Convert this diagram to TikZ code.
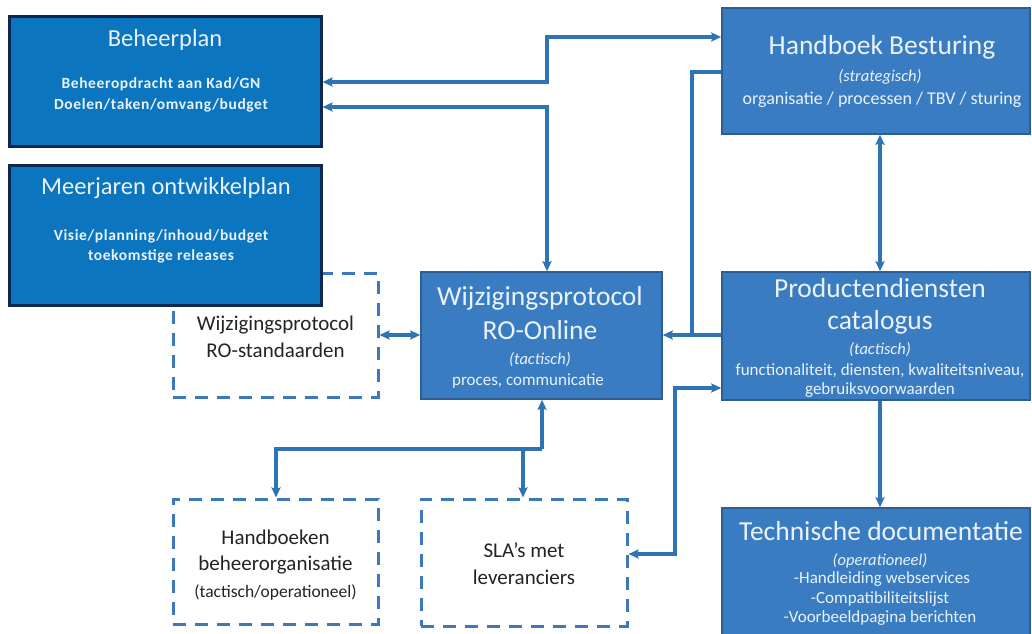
\documentclass[tikz,border=0pt]{standalone}
\usepackage{fontspec}
\setmainfont{Carlito}
\newfontfamily\spacedbold[LetterSpace=4]{Carlito}
\usetikzlibrary{arrows.meta}
\definecolor{leftfill}{RGB}{12,117,191}
\definecolor{leftborder}{RGB}{13,40,80}
\definecolor{rightfill}{RGB}{58,124,194}
\definecolor{rightborder}{RGB}{45,95,150}
\definecolor{conncol}{RGB}{46,116,181}
\definecolor{dashcol}{RGB}{62,120,188}
\definecolor{lighttext}{RGB}{234,242,250}
\definecolor{darktext}{RGB}{35,35,35}
\begin{document}
\begin{tikzpicture}[x=1pt,y=-1pt,
  lbox/.style={draw=leftborder, fill=leftfill, line width=3pt, inner sep=0pt},
  rbox/.style={draw=rightborder, fill=rightfill, line width=1.5pt, inner sep=0pt},
  dbox/.style={draw=dashcol, line width=3pt, dash pattern=on 13pt off 9pt, inner sep=0pt},
  ltitle/.style={text=lighttext, font=\fontsize{24.5}{28}\selectfont, inner sep=0pt},
  lsmall/.style={text=lighttext, font=\spacedbold\bfseries\fontsize{15.5}{18}\selectfont, inner sep=0pt},
  rtitle/.style={text=lighttext, font=\fontsize{27.5}{32}\selectfont, inner sep=0pt},
  rsmall/.style={text=lighttext, font=\fontsize{17}{20}\selectfont, inner sep=0pt},
  ritalic/.style={text=lighttext, font=\itshape\fontsize{16.5}{19}\selectfont, inner sep=0pt},
  dtitle/.style={text=darktext, font=\fontsize{21}{25}\selectfont, inner sep=0pt},
  dsmall/.style={text=darktext, font=\fontsize{17.5}{20}\selectfont, inner sep=0pt},
  conn/.style={draw=conncol, line width=3.2pt, >={Stealth[length=10pt,width=9pt,inset=1.5pt]}}
]
\useasboundingbox (0,0) rectangle (1032,633);
\clip (0,0) rectangle (1032,633);

% dashed boxes
\node[dbox, minimum width=205pt, minimum height=124pt] (rostd) at (275.5,335) {};
\node[dbox, minimum width=205pt, minimum height=125pt] (hbo) at (275.5,561.5) {};
\node[dbox, minimum width=206pt, minimum height=127pt] (sla) at (524,562.5) {};

% left boxes
\node[lbox, minimum width=312pt, minimum height=130pt] (bp) at (165,81) {};
\node[lbox, minimum width=312pt, minimum height=140pt] (mj) at (165,235) {};

% right boxes
\node[rbox, minimum width=308pt, minimum height=126pt] (hb) at (876,71) {};
\node[rbox, minimum width=308pt, minimum height=128pt] (pd) at (876,336) {};
\node[rbox, minimum width=308pt, minimum height=152pt] (td) at (876,584) {};
\node[rbox, minimum width=241pt, minimum height=127pt] (ro) at (541.5,335.5) {};

% texts
\node[ltitle] (bpt) at (165,40) {Beheerplan};
\node[lsmall] (bp1) at (161,84) {Beheeropdracht aan Kad/GN};
\node[lsmall] (bp2) at (161,105) {Doelen/taken/omvang/budget};

\node[ltitle] (mjt) at (166,188) {Meerjaren ontwikkelplan};
\node[lsmall] (mj1) at (161,236) {Visie/planning/inhoud/budget};
\node[lsmall] (mj2) at (161,256) {toekomstige releases};

\node[dtitle] (rostd1) at (275.5,325) {Wijzigingsprotocol};
\node[dtitle] (rostd2) at (275.5,350) {RO-standaarden};

\node[rtitle] (ro1) at (540,298) {Wijzigingsprotocol};
\node[rtitle] (ro2) at (540,330) {RO-Online};
\node[ritalic] (ro3) at (540,360) {(tactisch)};
\node[rsmall] (ro4) at (528,381) {proces, communicatie};

\node[rtitle] (hb1) at (882,47) {Handboek Besturing};
\node[ritalic] (hb2) at (880,77) {(strategisch)};
\node[font=\fontsize{18}{21}\selectfont, text=lighttext, inner sep=0pt] (hb3) at (882,100) {organisatie / processen / TBV / sturing};

\node[rtitle] (pd1) at (880,288) {Productendiensten};
\node[rtitle] (pd2) at (880,322) {catalogus};
\node[ritalic] (pd3) at (880,350) {(tactisch)};
\node[rsmall] (pd4) at (880,371) {functionaliteit, diensten, kwaliteitsniveau,};
\node[rsmall] (pd5) at (880,390) {gebruiksvoorwaarden};

\node[rtitle] (td1) at (881,531) {Technische documentatie};
\node[ritalic] (td2) at (880,561) {(operationeel)};
\node[rsmall] (td3) at (882,579) {-Handleiding webservices};
\node[rsmall] (td4) at (880,599) {-Compatibiliteitslijst};
\node[rsmall] (td5) at (880,618) {-Voorbeeldpagina berichten};

\node[dtitle] (hbo1) at (275.5,537) {Handboeken};
\node[dtitle] (hbo2) at (275.5,565) {beheerorganisatie};
\node[dsmall] (hbo3) at (275.5,592) {(tactisch/operationeel)};

\node[dtitle] (sla1) at (524,550) {SLA’s met};
\node[dtitle] (sla2) at (524,577) {leveranciers};

% connectors
\draw[conn,<->] (bp.east |- 0,82) -- (547,82) |- (hb.west |- 0,37);
\draw[conn,<->] (bp.east |- 0,107) -| (ro.north -| 547,0);
\draw[conn,<->] (hb.south -| 880,0) -- (pd.north -| 880,0);
\draw[conn,->] (hb.west |- 0,72) -| (692,335) -- (ro.east |- 0,335);
\draw[conn] (pd.west |- 0,335) -- (692,335);
\draw[conn,<->] (rostd.east |- 0,335) -- (ro.west |- 0,335);
\draw[conn,->] (542,449) -- (ro.south -| 542,0);
\draw[conn,->] (542,449) -| (hbo.north -| 276,0);
\draw[conn,->] (523,449) -- (sla.north -| 523,0);
\draw[conn,<->] (sla.east |- 0,554) -| (675,388) -- (pd.west |- 0,388);
\draw[conn,->] (pd.south -| 880,0) -- (td.north -| 880,0);
\end{tikzpicture}
\end{document}
